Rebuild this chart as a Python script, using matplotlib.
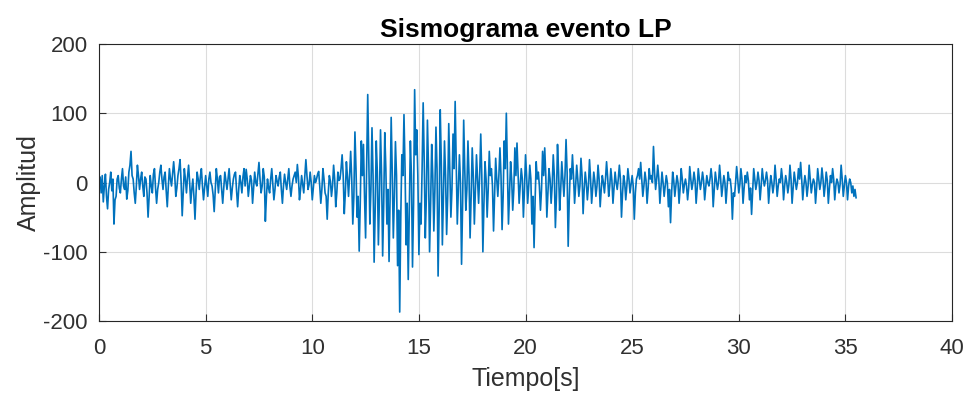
import numpy as np
import matplotlib
matplotlib.use("Agg")
import matplotlib.pyplot as plt

plt.rcParams['font.family'] = ['Liberation Sans', 'DejaVu Sans']
plt.rcParams['axes.unicode_minus'] = False

sample_step = 0.05  # seconds between samples

amplitude = [
    -5, 8, -15, 10, -28, -5, 12, -20, -38, -10, 0, 15, -12, 5, -60, -25, -20, 5, 10, -8,
    -15, 5, 20, -5, -10, 8, -24, -12, 15, 25, 45, 10, 5, -15, -30, -5, 25, 10, -10, 5,
    15, -5, -20, 8, 5, -15, -50, -20, 10, -5, -15, 12, 20, -8, -30, -10, 0, 15, 25, 5,
    -10, 8, 15, -12, -35, -5, 20, 5, -5, 12, 30, 10, -20, -8, 10, 20, 33, 0, -48, -15,
    20, 5, -15, 8, 25, 0, -30, -10, 5, -20, -53, -15, 15, 5, -10, 8, 20, -5, -25, -8,
    10, -5, -20, 5, 15, 0, -5, -18, -42, -10, 20, 5, -15, 8, 10, -10, -30, -8, 15, 3,
    -10, 5, 20, -3, -25, -8, 5, 12, 15, -12, -35, -10, 10, 0, -15, 8, 20, -5, 19, 5,
    -20, -5, 10, 3, -30, -8, 15, 0, -5, 12, 29, 5, -15, -5, 20, 8, -56, -20, 5, -8,
    -15, 5, 20, -3, -25, -10, 10, 2, -5, 8, 15, -10, -30, -5, 12, 0, -10, 5, 20, -5,
    -20, -5, 5, 10, 15, 0, 26, 8, -25, -10, 10, -3, -15, 8, 33, 10, -10, -3, 15, 0,
    -25, -8, 10, 0, 5, 12, 16, -5, -30, -10, 20, 5, -15, -20, -53, -15, 10, 2, -20, -5,
    25, 5, -35, -15, 15, 3, 5, 20, 40, 10, -45, -15, 30, 8, -20, 10, 45, 5, -60, -20,
    73, 20, -50, -20, -99, -30, 60, 10, 55, -20, -80, 20, 127, 30, -60, -10, 79, 10, -115, -40,
    60, 15, -90, -20, 76, 10, -106, -30, 72, 20, -60, -10, -114, -20, 94, 15, -80, -20, 59, 10,
    -120, -40, -187, -50, 40, 10, 98, 20, -90, -30, -140, -40, 60, 10, -122, -30, 134, 40, 76, 10,
    -104, -30, -60, 20, 115, 30, -80, -20, 90, 20, -100, -30, 55, 10, -70, -10, 80, 20, -135, -40,
    105, 30, -90, -20, 60, 10, -75, -20, 85, 20, -50, -10, 70, 20, 117, 30, -60, -10, 40, 0,
    -118, -30, 90, 20, -40, -10, 60, 10, -80, -20, 50, 10, -60, -10, 40, 5, -30, 10, 70, 10,
    -100, -30, 30, 5, -50, -10, 45, 10, 20, -5, -70, -20, 35, 5, -20, 10, 50, 10, -68, -20,
    60, 20, 100, 20, -60, -15, 30, 5, -40, -10, 50, 10, 57, 15, -30, -5, 20, 5, -50, -10,
    40, 10, -30, -5, 25, 5, -60, -20, -94, -25, 30, 5, 15, -5, -40, -10, 45, 10, 50, 10,
    -50, -15, 20, 5, -30, -5, 40, 10, -65, -20, 55, 15, -40, -10, 30, 5, -20, 10, 62, 15,
    -92, -25, 20, 5, 40, 10, -30, -5, 25, 5, -20, -5, 35, 10, -45, -10, 15, 0, -25, -5,
    33, 5, -30, -8, 15, 2, -20, -5, 25, 5, -35, -10, 10, 0, -15, 5, 30, 8, -20, -5,
    20, 3, -30, -8, 15, 0, -10, 5, 25, 5, -50, -15, 10, 0, -25, -5, 20, 5, -15, -3,
    10, -5, -53, -15, 5, 10, 20, 5, 29, 5, -20, -5, 15, 3, -30, -8, 20, 5, 10, 0,
    52, 15, -10, 5, 25, 5, -30, -8, 15, 0, -20, -5, 10, 0, -35, -10, -58, -15, 15, 3,
    -20, -5, 10, 0, -30, -8, 20, 5, -15, -3, 5, -5, -25, -8, 23, 5, -10, 0, 15, 3,
    -30, -8, 20, 5, -10, 0, 15, 3, -25, -8, 10, 0, -5, 5, 20, 5, -35, -10, 15, 3,
    -10, 0, 25, 5, -20, -5, 10, 0, -30, -8, 15, 3, 5, -10, -53, -15, -20, 0, 23, 5,
    -15, -3, 20, 5, -30, -8, 10, 0, 15, 3, -25, -8, -46, -12, 20, 5, -10, 0, 15, 3,
    -25, -5, 20, 5, -5, 3, 15, 3, -30, -8, 10, 0, -15, -3, 25, 5, -20, -5, 5, 0,
    20, 5, -25, -5, 10, 0, -15, -3, 25, 5, -30, -8, 15, 3, -10, 0, 20, 5, 29, 5,
    -25, -5, 10, 0, -20, -5, 25, 5, -15, -3, 5, 0, -30, -8, 20, 5, -10, 0, 21, 5,
    -20, -5, 15, 3, -30, -8, 10, 0, 20, 5, -25, -5, 5, 0, -15, -3, 25, 5, -20, -5,
    10, 0, -25, -5, 5, 0, -15, -5, -20, -10, -22,
]

x_ticks = [0, 5, 10, 15, 20, 25, 30, 35, 40]
y_ticks = [-200, -100, 0, 100, 200]
title = "Sismograma evento LP"
x_label = "Tiempo[s]"
y_label = "Amplitud"

time = np.arange(len(amplitude)) * sample_step

fig = plt.figure(figsize=(9.68, 3.95), dpi=100)
ax = fig.add_axes([0.1023, 0.1873, 0.9835 - 0.1023, 0.8886 - 0.1873])
ax.plot(time, amplitude, color='#0072BD', linewidth=1.2)
ax.set_xlim(0, 40)
ax.set_ylim(-200, 200)
ax.set_xticks(x_ticks)
ax.set_yticks(y_ticks)
ax.grid(True, color='#dcdcdc', linewidth=0.8)
ax.set_axisbelow(True)
ax.tick_params(direction='in', labelsize=16, colors='#303030', length=5)
ax.tick_params(axis='x', pad=12)
ax.tick_params(axis='y', pad=8)
for s in ax.spines.values():
    s.set_color('#262626')
    s.set_linewidth(0.8)
ax.set_title(title, fontsize=19, fontweight='bold', pad=5)
ax.set_xlabel(x_label, fontsize=18, color='#303030', labelpad=6)
ax.set_ylabel(y_label, fontsize=18, color='#303030', labelpad=2)

fig.savefig("out.png", dpi=100)
